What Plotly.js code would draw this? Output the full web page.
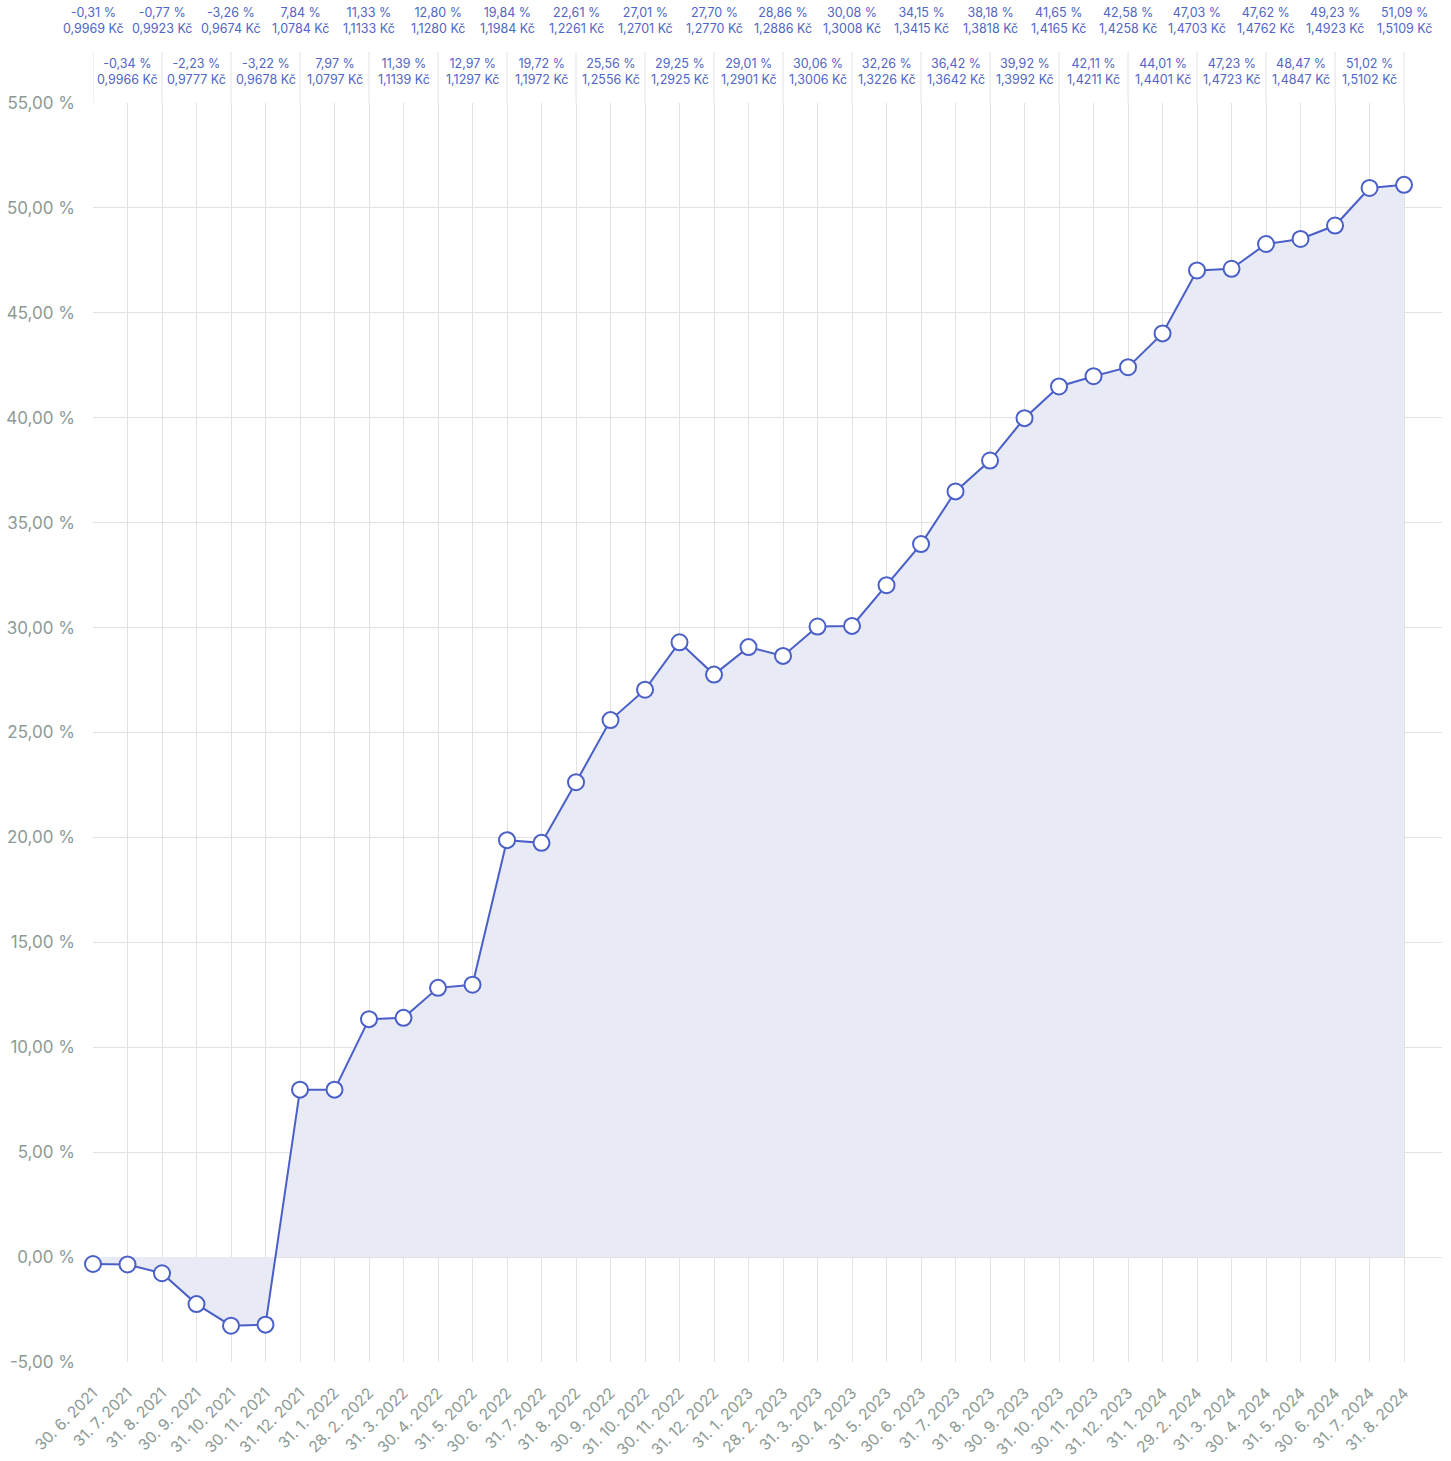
<!DOCTYPE html>
<html>
<head>
<meta charset="utf-8">
<script src="https://cdn.plot.ly/plotly-3.0.1.min.js"></script>
<style>html,body{margin:0;padding:0;background:#fff;}#chart{width:1451px;height:1461px;}</style>
</head>
<body>
<div id="chart"></div>
<script>
const dates = ["30. 6. 2021","31. 7. 2021","31. 8. 2021","30. 9. 2021","31. 10. 2021","30. 11. 2021","31. 12. 2021",
"31. 1. 2022","28. 2. 2022","31. 3. 2022","30. 4. 2022","31. 5. 2022","30. 6. 2022","31. 7. 2022","31. 8. 2022","30. 9. 2022","31. 10. 2022","30. 11. 2022","31. 12. 2022",
"31. 1. 2023","28. 2. 2023","31. 3. 2023","30. 4. 2023","31. 5. 2023","30. 6. 2023","31. 7. 2023","31. 8. 2023","30. 9. 2023","31. 10. 2023","30. 11. 2023","31. 12. 2023",
"31. 1. 2024","29. 2. 2024","31. 3. 2024","30. 4. 2024","31. 5. 2024","30. 6. 2024","31. 7. 2024","31. 8. 2024"];

// plotted line values
const lineValues = [-0.33,-0.35,-0.77,-2.24,-3.27,-3.22,7.98,
7.98,11.34,11.40,12.83,12.98,19.87,19.74,22.63,25.59,27.04,29.30,27.76,
29.07,28.65,30.05,30.08,32.02,33.98,36.49,37.96,39.98,41.49,41.98,42.41,
44.02,47.02,47.10,48.28,48.52,49.16,50.95,51.10];

// labels shown above the chart
const labelPct = [-0.31,-0.34,-0.77,-2.23,-3.26,-3.22,7.84,
7.97,11.33,11.39,12.80,12.97,19.84,19.72,22.61,25.56,27.01,29.25,27.70,
29.01,28.86,30.06,30.08,32.26,34.15,36.42,38.18,39.92,41.65,42.11,42.58,
44.01,47.03,47.23,47.62,48.47,49.23,51.02,51.09];
const labelPrice = [0.9969,0.9966,0.9923,0.9777,0.9674,0.9678,1.0784,
1.0797,1.1133,1.1139,1.1280,1.1297,1.1984,1.1972,1.2261,1.2556,1.2701,1.2925,1.2770,
1.2901,1.2886,1.3006,1.3008,1.3226,1.3415,1.3642,1.3818,1.3992,1.4165,1.4211,1.4258,
1.4401,1.4703,1.4723,1.4762,1.4847,1.4923,1.5102,1.5109];

// y-axis ticks
const yTickVals = [-5, 0, 5, 10, 15, 20, 25, 30, 35, 40, 45, 50, 55];
const yTickText = ["-5,00 %","0,00 %","5,00 %","10,00 %","15,00 %","20,00 %","25,00 %","30,00 %","35,00 %","40,00 %","45,00 %","50,00 %","55,00 %"];

const blue = "#4a5fc8";
const labelBlue = "#5065c6";
const gray = "#8c9a95";
const grid = "#e2e2e2";
const fontFam = "Inter, 'Open Sans', sans-serif";

const fmt = (v, d) => v.toFixed(d).replace('.', ',');

const plotH = 1461 - 103 - 99;
const annotations = [];
const shapes = [];
dates.forEach((d, i) => {
  const even = i % 2 === 0;
  annotations.push({
    x: d, xref: 'x', yref: 'paper',
    y: even ? 1 + 82 / plotH : 1 + 31 / plotH,
    yanchor: 'middle', xanchor: 'center', showarrow: false,
    text: fmt(labelPct[i], 2) + ' %<br>' + fmt(labelPrice[i], 4) + ' Kč',
    font: {family: fontFam, size: 12.5, color: labelBlue},
    align: 'center'
  });
  if (even) {
    shapes.push({type: 'line', xref: 'x', yref: 'paper', x0: i, x1: i, y0: 1, y1: 1 + 51 / plotH,
      line: {color: grid, width: 1}, layer: 'below'});
  }
});

const trace = {
  type: 'scatter', mode: 'lines+markers',
  x: dates, y: lineValues,
  fill: 'tozeroy', fillcolor: '#e8eaf5',
  line: {color: blue, width: 2},
  marker: {size: 16, color: '#ffffff', line: {color: blue, width: 2}},
  cliponaxis: false,
  hoverinfo: 'skip'
};

const layout = {
  width: 1451, height: 1461,
  margin: {l: 93, r: 9, t: 103, b: 99},
  paper_bgcolor: '#fff', plot_bgcolor: '#fff',
  separators: ', ',
  showlegend: false,
  font: {family: fontFam},
  xaxis: {
    type: 'category', range: [0, 39.1],
    showgrid: true, gridcolor: grid, gridwidth: 1,
    zeroline: false, showline: false, ticks: '',
    tickangle: -45, ticklabelstandoff: 18,
    tickfont: {family: fontFam, size: 15.5, color: gray}
  },
  yaxis: {
    range: [-5, 55],
    tickmode: 'array', tickvals: yTickVals, ticktext: yTickText,
    showgrid: true, gridcolor: grid, gridwidth: 1,
    zeroline: false, showline: false, ticks: '',
    ticklabelstandoff: 17,
    tickfont: {family: fontFam, size: 17, color: gray}
  },
  annotations: annotations,
  shapes: shapes
};

Plotly.newPlot('chart', [trace], layout, {displayModeBar: false, staticPlot: true});
</script>
</body>
</html>
